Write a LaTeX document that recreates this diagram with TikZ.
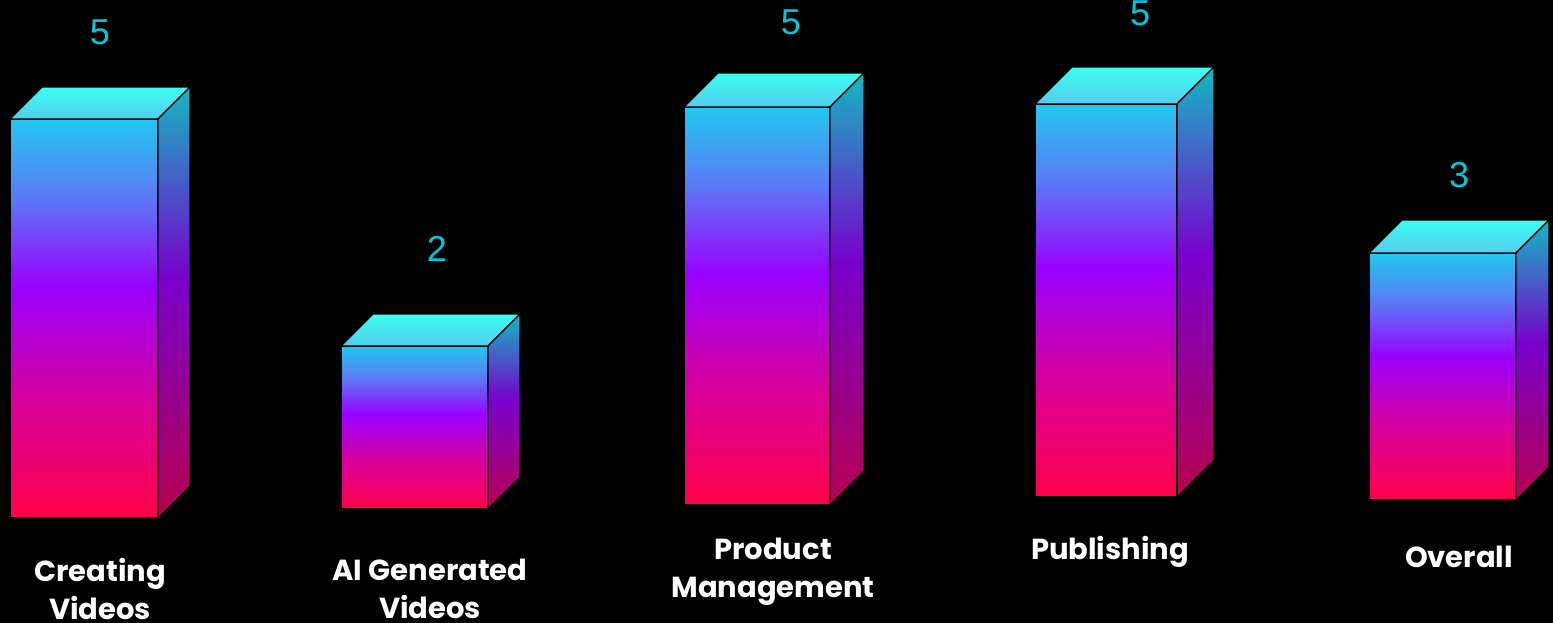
\documentclass[tikz,border=0pt]{standalone}
\usepackage{fontspec}
\setmainfont{Poppins}
\newfontfamily\numfont{Liberation Sans}

\definecolor{numcyan}{HTML}{00C6DE}
\definecolor{frontbot}{HTML}{FF0048}
\definecolor{frontmag}{HTML}{D6009C}
\definecolor{frontpur}{HTML}{9A00FF}
\definecolor{frontblu}{HTML}{5C78F5}
\definecolor{fronttop}{HTML}{22C8F0}
\definecolor{sidebot}{HTML}{B8004F}
\definecolor{sidepur}{HTML}{7800CC}
\definecolor{sidetop}{HTML}{14B8C2}
\definecolor{topback}{HTML}{3CFFF0}
\definecolor{topfront}{HTML}{52CCEE}

\pgfdeclareverticalshading{frontshade}{100bp}{color(0bp)=(frontbot); color(25bp)=(frontbot);
  color(40bp)=(frontmag); color(54bp)=(frontpur); color(65bp)=(frontblu);
  color(75bp)=(fronttop); color(100bp)=(fronttop)}
\pgfdeclareverticalshading{sideshade}{100bp}{color(0bp)=(sidebot); color(25bp)=(sidebot);
  color(53bp)=(sidepur); color(75bp)=(sidetop); color(100bp)=(sidetop)}

\begin{document}
\begin{tikzpicture}[x=1pt, y=1pt,
    face/.style = {draw=black, line width=1.2pt, line join=round},
    value/.style = {text=numcyan, font=\numfont\fontsize{36}{36}\selectfont},
    barlabel/.style = {text=white, align=center,
      font=\bfseries\fontsize{29}{38}\selectfont}]
  \useasboundingbox (0,0) rectangle (1553,-623);
  \fill[black] (0,0) rectangle (1553,-623);
  % one box per column: number / left / top / bottom / width / depth
  \foreach \i/\bx/\btop/\bbot/\bw/\bd in {1/10/119/518/148/32, 2/341/346/509/147/32,
      3/684/107/505/146/34, 4/1035/104/497/142/37, 5/1369/253/500/147/33} {
    \shadedraw[face, shading=frontshade] (\bx,-\bbot) rectangle (\bx+\bw,-\btop);
    \shadedraw[face, top color=topback, bottom color=topfront]
      (\bx,-\btop) -- ++(\bd,\bd) -- ++(\bw,0) -- ++(-\bd,-\bd) -- cycle;
    \shadedraw[face, shading=sideshade]
      (\bx+\bw,-\btop) -- ++(\bd,\bd) -- (\bx+\bw+\bd,-\bbot+\bd) -- (\bx+\bw,-\bbot) -- cycle;
  }
  \node[value] (v1) at (100,-32) {5};
  \node[value] (v2) at (437,-249) {2};
  \node[value] (v3) at (791,-22) {5};
  \node[value] (v4) at (1140,-13) {5};
  \node[value] (v5) at (1459,-175) {3};
  \node[barlabel] (creating) at (100,-589) {Creating\\Videos};
  \node[barlabel] (aigen) at (430,-589) {AI Generated\\Videos};
  \node[barlabel] (product) at (773,-572) {Product\\Management};
  \node[barlabel] (publishing) at (1110,-552) {Publishing};
  \node[barlabel] (overall) at (1459,-557) {Overall};
\end{tikzpicture}
\end{document}
